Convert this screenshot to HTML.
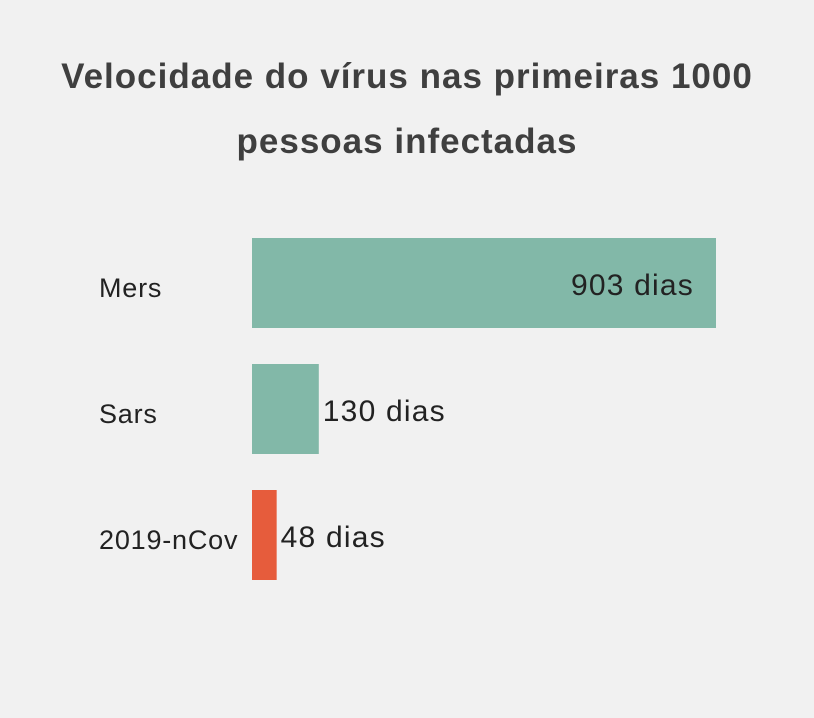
<!DOCTYPE html>
<html><head><meta charset="utf-8"><style>
body{margin:0;width:814px;height:718px;background:#f1f1f1;font-family:"Liberation Sans",sans-serif;overflow:hidden}
#title{position:absolute;top:44px;left:0;width:814px;text-align:center;font-weight:bold;font-size:35px;letter-spacing:1px;line-height:65px;color:#3f3f3f}
svg{position:absolute;top:0;left:0}
</style></head><body>
<div id="title">Velocidade do vírus nas primeiras 1000<br>pessoas infectadas</div>
<svg id="chart" width="814" height="718"></svg>
<script>
const categories=["Mers","Sars","2019-nCov"];
const values=[903,130,48];
const valueLabels=["903 dias","130 dias","48 dias"];
const colors=["#82b8a8","#82b8a8","#e65c3c"];
const svg=document.getElementById('chart');
const NS='http://www.w3.org/2000/svg';
const x0=252, pxPerUnit=464/903;
const xs=v=>v*pxPerUnit;
const yTop=i=>238+i*126, bh=90;
categories.forEach((c,i)=>{
  const w=xs(values[i]);
  const r=document.createElementNS(NS,'rect');
  r.setAttribute('x',x0);r.setAttribute('y',yTop(i));r.setAttribute('width',w);r.setAttribute('height',bh);r.setAttribute('fill',colors[i]);
  
  
  svg.appendChild(r);
  const l=document.createElementNS(NS,'text');
  l.setAttribute('x',99);l.setAttribute('y',yTop(i)+bh/2+14);l.setAttribute('font-size','27');l.setAttribute('letter-spacing','0.8');l.setAttribute('fill','#222');
  l.textContent=c;
  
  
  svg.appendChild(l);
  const t=document.createElementNS(NS,'text');
  const inside=w>200;
  t.setAttribute('x',inside?x0+w-22:x0+w+4);
  t.setAttribute('text-anchor',inside?'end':'start');
  t.setAttribute('y',yTop(i)+bh/2+12);t.setAttribute('font-size','30');t.setAttribute('letter-spacing','1.2');t.setAttribute('fill','#222');
  t.textContent=valueLabels[i];
  
  
  svg.appendChild(t);
});
</script>
</body></html>
